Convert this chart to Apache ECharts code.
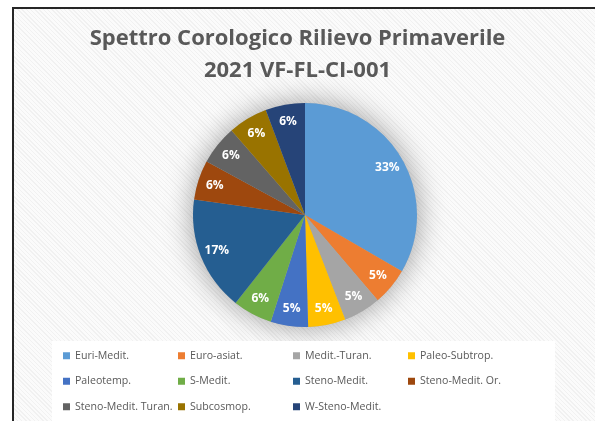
<!DOCTYPE html>
<html><head><meta charset="utf-8">
<script src="https://cdn.jsdelivr.net/npm/echarts@6/dist/echarts.min.js"></script>
<style>
html,body{margin:0;padding:0;background:#fff;width:595px;height:421px;overflow:hidden}
#bg{position:absolute;left:12px;top:7px;width:600px;height:430px;border-left:2px solid #262626;border-top:2px solid #262626;
background:repeating-linear-gradient(45deg,#f1f1f1 0px,#f1f1f1 1px,#fbfbfb 1px,#fbfbfb 3px);}
#main{position:absolute;left:0;top:0;width:595px;height:421px}
</style></head>
<body><div id="bg"></div><div id="main"></div>
<script>
var titleText = 'Spettro Corologico Rilievo Primaverile\n2021 VF-FL-CI-001';
var categories = ['Euri-Medit.','Euro-asiat.','Medit.-Turan.','Paleo-Subtrop.','Paleotemp.','S-Medit.','Steno-Medit.','Steno-Medit. Or.','Steno-Medit. Turan.','Subcosmop.','W-Steno-Medit.'];
var values = [33.4,5.4,5.4,5.4,5.4,5.7,16.6,5.7,5.7,5.7,5.7];
var colors = ['#5B9BD5','#ED7D31','#A5A5A5','#FFC000','#4472C4','#70AD47','#255E91','#9E480E','#636363','#997300','#264478'];

var data = categories.map(function(c,i){return {name:c,value:values[i],itemStyle:{color:colors[i]}};});
var chart = echarts.init(document.getElementById('main'));
chart.setOption({
  animation:false,
  title:{text:titleText,left:'center',top:18,textStyle:{fontFamily:'Open Sans',fontSize:22,fontWeight:'bold',color:'#595959',lineHeight:32}},
  legend:{
    data:categories, left:52, top:341, width:470,
    orient:'horizontal', itemWidth:7, itemHeight:7, itemGap:0,
    icon:'rect', backgroundColor:'#ffffff', padding:[2,32,2,11],
    textStyle:{fontFamily:'Open Sans',fontSize:10.6,color:'#595959',width:103,lineHeight:25.5,overflow:'truncate'}
  },
  series:[
    {type:'pie',center:[305,215],radius:[0,112],startAngle:90,clockwise:true,data:data,z:3,
     label:{show:false},labelLine:{show:false}},
    {type:'pie',center:[305,215],radius:[0,112],startAngle:90,clockwise:true,silent:true,z:1,
     data:categories.map(function(c,i){return {name:c,value:values[i]};}),
     itemStyle:{color:'#bbbbbb',shadowBlur:30,shadowColor:'rgba(0,0,0,0.4)'},
     label:{show:false},labelLine:{show:false}},
    {type:'pie',center:[305,215],radius:[72,112],startAngle:90,clockwise:true,silent:true,z:4,
     data:categories.map(function(c,i){return {name:c,value:values[i]};}),
     itemStyle:{color:'rgba(0,0,0,0)'},
     label:{show:true,position:'inside',color:'#ffffff',fontFamily:'Open Sans',fontWeight:'bold',fontSize:12,
       formatter:function(p){return Math.round(p.percent)+'%';}},
     labelLine:{show:false}}
  ]
});
</script></body></html>
